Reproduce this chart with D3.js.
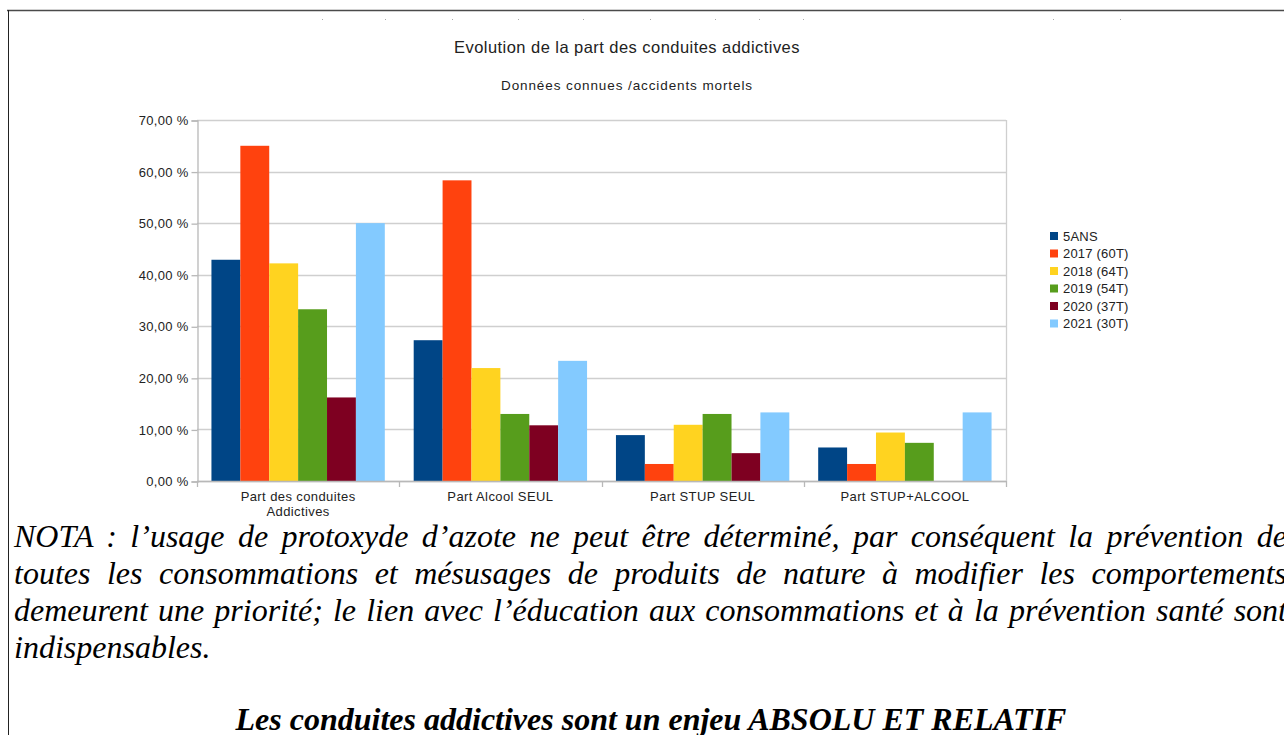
<!DOCTYPE html>
<html>
<head>
<meta charset="utf-8">
<script src="https://cdn.jsdelivr.net/npm/d3@7"></script>
<style>
  html, body { margin: 0; padding: 0; background: #fff; overflow: hidden; width: 1284px; height: 735px; }
  #page { position: relative; width: 1284px; height: 735px; overflow: hidden; }
  svg { position: absolute; left: 0; top: 0; }
  .nota { position: absolute; left: 14px; top: 518px; width: 1273px;
          font-family: "Liberation Serif", serif; font-style: italic; font-size: 32px;
          line-height: 37px; color: #000; }
  .nota .line { text-align: justify; text-align-last: justify; white-space: nowrap; }
  .nota .line.last { text-align-last: left; }
  .headline { position: absolute; left: 0; width: 1302px; top: 700px; text-align: center;
              font-family: "Liberation Serif", serif; font-style: italic; font-weight: bold;
              font-size: 32px; line-height: 38px; color: #000; white-space: nowrap; }
</style>
</head>
<body>
<div id="page"></div>
<script>
// Categories and series (shares of fatal accidents, in %)
const categories = ["Part des conduites Addictives", "Part Alcool SEUL", "Part STUP SEUL", "Part STUP+ALCOOL"];
const seriesNames = ["5ANS", "2017 (60T)", "2018 (64T)", "2019 (54T)", "2020 (37T)", "2021 (30T)"];
const values5ans = [42.9, 27.3, 8.9, 6.5];
const values2017 = [65.0, 58.3, 3.3, 3.3];
const values2018 = [42.2, 21.9, 10.9, 9.4];
const values2019 = [33.3, 13.0, 13.0, 7.4];
const values2020 = [16.2, 10.8, 5.4, 0.0];
const values2021 = [50.0, 23.3, 13.3, 13.3];
const seriesColors = ["#004586", "#ff420e", "#ffd320", "#579d1c", "#7e0021", "#83caff"];
const yTicks = [0, 10, 20, 30, 40, 50, 60, 70];

const chartTitle = "Evolution de la part des conduites addictives";
const chartSubtitle = "Données connues /accidents mortels";
const notaLines = [
  "NOTA : l’usage de protoxyde d’azote ne peut être déterminé, par conséquent la prévention de",
  "toutes les consommations et mésusages de produits de nature à modifier les comportements",
  "demeurent une priorité; le lien avec l’éducation aux consommations et à la prévention santé sont",
  "indispensables."
];
const headline = "Les conduites addictives sont un enjeu ABSOLU ET RELATIF";

const allValues = [values5ans, values2017, values2018, values2019, values2020, values2021];
const table = categories.map((c, i) => ({
  category: c,
  bars: seriesNames.map((s, j) => ({ series: s, value: allValues[j][i], color: seriesColors[j] }))
}));

const W = 1284, H = 735;
const plot = { left: 197, right: 1006, top: 120, bottom: 481 };
const sans = "'Liberation Sans', Arial, sans-serif";

const page = d3.select("#page");
const svg = page.append("svg").attr("width", W).attr("height", H);

// Page frame
svg.append("line").attr("x1", 7).attr("x2", W).attr("y1", 10.5).attr("y2", 10.5)
  .attr("stroke", "#4a4a4a").attr("stroke-width", 1.5);
svg.append("line").attr("x1", 8.5).attr("x2", 8.5).attr("y1", 10).attr("y2", H)
  .attr("stroke", "#222").attr("stroke-width", 1);

// Small ruler marks along the top
const rulerMarks = [322, 385, 452, 518, 583, 650, 715, 759, 803, 1053, 1120];
svg.selectAll("rect.mark").data(rulerMarks).enter().append("rect")
  .attr("class", "mark").attr("x", d => d).attr("y", 19).attr("width", 1).attr("height", 1)
  .attr("fill", "#aaa");

// Scales
const x0 = d3.scaleBand().domain(categories).range([plot.left, plot.right]).paddingInner(0).paddingOuter(0);
const x1 = d3.scaleBand().domain(seriesNames).range([0, x0.bandwidth()]).paddingOuter(0.5).paddingInner(0);
const y = d3.scaleLinear().domain([0, 70]).range([plot.bottom, plot.top]);

// Titles
svg.append("text").attr("x", 627).attr("y", 53).attr("text-anchor", "middle")
  .attr("font-family", sans).attr("font-size", 16.5).attr("letter-spacing", 0.45)
  .attr("fill", "#222").text(chartTitle);
svg.append("text").attr("x", 627).attr("y", 90).attr("text-anchor", "middle")
  .attr("font-family", sans).attr("font-size", 13.5).attr("letter-spacing", 0.9)
  .attr("fill", "#222").text(chartSubtitle);

// Horizontal grid
svg.append("g").selectAll("line").data(yTicks).enter().append("line")
  .attr("x1", plot.left).attr("x2", plot.right)
  .attr("y1", d => Math.round(y(d)) + 0.5).attr("y2", d => Math.round(y(d)) + 0.5)
  .attr("stroke", "#cfcfcf").attr("stroke-width", 1.3);

// Right border of the plot area
svg.append("line").attr("x1", plot.right + 0.5).attr("x2", plot.right + 0.5)
  .attr("y1", plot.top).attr("y2", plot.bottom).attr("stroke", "#cfcfcf").attr("stroke-width", 1.3);

// Y axis
const fmt = v => v.toFixed(2).replace(".", ",") + " %";
const yAxis = d3.axisLeft(y).tickValues(yTicks).tickFormat(fmt).tickSize(6).tickPadding(3);
const gy = svg.append("g").attr("transform", `translate(${plot.left + 0.5},0.5)`).call(yAxis);
gy.select(".domain").attr("stroke", "#b8b8b8").attr("stroke-width", 1.3);
gy.selectAll(".tick line").attr("stroke", "#b8b8b8").attr("stroke-width", 1.3);
gy.selectAll(".tick text").attr("font-family", sans).attr("font-size", 13)
  .attr("letter-spacing", 0.3).attr("fill", "#222");

// Bars
const groups = svg.append("g").selectAll("g").data(table).enter().append("g")
  .attr("transform", d => `translate(${x0(d.category)},0)`);
groups.selectAll("rect").data(d => d.bars).enter().append("rect")
  .attr("x", d => x1(d.series))
  .attr("y", d => y(d.value))
  .attr("width", x1.bandwidth())
  .attr("height", d => Math.max(0, y(0) - y(d.value)))
  .attr("fill", d => d.color)
  .attr("stroke", d => d.value === 0 ? d.color : "none")
  .attr("stroke-width", d => d.value === 0 ? 1.5 : 0);

// X axis with ticks at category boundaries
const bounds = categories.map(c => x0(c)).concat([plot.right]);
svg.append("line").attr("x1", plot.left).attr("x2", plot.right)
  .attr("y1", plot.bottom + 0.5).attr("y2", plot.bottom + 0.5)
  .attr("stroke", "#b8b8b8").attr("stroke-width", 1.3);
svg.append("g").selectAll("line").data(bounds).enter().append("line")
  .attr("x1", d => Math.round(d) + 0.5).attr("x2", d => Math.round(d) + 0.5)
  .attr("y1", plot.bottom).attr("y2", plot.bottom + 6)
  .attr("stroke", "#b8b8b8").attr("stroke-width", 1.3);

// Category labels, wrapped when too wide
const xl = svg.append("g").selectAll("text").data(categories).enter().append("text")
  .attr("x", d => x0(d) + x0.bandwidth() / 2).attr("y", 501)
  .attr("text-anchor", "middle").attr("font-family", sans).attr("font-size", 13)
  .attr("letter-spacing", 0.4).attr("fill", "#222");
xl.each(function(d) {
  const t = d3.select(this);
  const words = d.split(" ");
  let line = [];
  let ts = t.append("tspan").attr("x", t.attr("x")).attr("dy", 0);
  words.forEach(w => {
    line.push(w);
    ts.text(line.join(" "));
    if (ts.node().getComputedTextLength() > 160 && line.length > 1) {
      line.pop();
      ts.text(line.join(" "));
      line = [w];
      ts = t.append("tspan").attr("x", t.attr("x")).attr("dy", 14.5).text(w);
    }
  });
});

// Legend
const legend = svg.append("g").attr("transform", "translate(1050,232)");
const li = legend.selectAll("g").data(seriesNames).enter().append("g")
  .attr("transform", (d, i) => `translate(0,${i * 17.5})`);
li.append("rect").attr("width", 8).attr("height", 8).attr("fill", (d, i) => seriesColors[i]);
li.append("text").attr("x", 13).attr("y", 8.5).attr("font-family", sans).attr("font-size", 13)
  .attr("letter-spacing", 0.2).attr("fill", "#222").text(d => d);

// Note under the chart
const nota = page.append("div").attr("class", "nota");
nota.selectAll("div").data(notaLines).enter().append("div")
  .attr("class", (d, i) => i === notaLines.length - 1 ? "line last" : "line")
  .text(d => d);

page.append("div").attr("class", "headline").text(headline);
</script>
</body>
</html>
